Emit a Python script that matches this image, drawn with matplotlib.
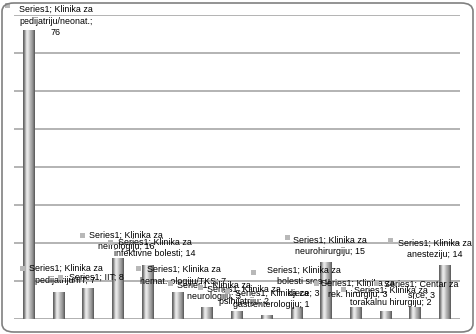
import numpy as np
import matplotlib.pyplot as plt
from matplotlib import transforms
from matplotlib.patches import FancyBboxPatch

# broj pacijenata po klinici
klinike = [
    "Klinika za\npedijatriju/neonat.;\n",
    "Klinika za\npedijatriju/IIT;",
    "IIT;",
    "Klinika za\nnefrologiju;",
    "Klinika za\ninfektivne bolesti;",
    "Klinika za\nhemat.-ologiju/TKS;",
    "Klinika za\nneurologiju;",
    "Klinika za\npsihijatriju;",
    "Klinika za\ngastrenterologiju;",
    "Klinika za\nbolesti srca u\ndjece;",
    "Klinika za\nneurohirurgiju;",
    "Klinika za\nrek. hirurgiju;",
    "Klinika za\ntorakalnu hirurgiju;",
    "Centar za\nsrce;",
    "Klinika za\nanesteziju;",
]
vrijednosti = [76, 7, 8, 16, 14, 7, 3, 2, 1, 3, 15, 3, 2, 3, 14]
serija = "Series1"

# pomaci natpisa (tekst i kvadratic) u pikselima od vrha stupca
pomak_teksta = [(27, 9), (7, 18), (8, 11), (8, 17), (7, 18), (6, 17), (7, 17),
                (7, 16), (5, 16), (7, 26), (4, 16), (2, 19), (5, 15), (6, 18),
                (-10, 17)]
pomak_kljuca = [(-22, 25), (-37, 24), (-28, 12), (-36, 23), (-38, 24),
                (-40, 24), (-37, 25), (-37, 24), (-40, 24), (-43, 36),
                (-39, 25), (-40, 25), (-43, 22), (-39, 25), (-55, 26)]

plt.rcParams['font.family'] = ['Liberation Sans', 'DejaVu Sans']

fig = plt.figure(figsize=(4.76, 3.34), dpi=100)
ax = fig.add_axes([14 / 476, 15 / 334, 446 / 476, 304 / 334])

# okvir grafikona sa zaobljenim uglovima
okvir = FancyBboxPatch((2 / 476, 2 / 334), 471 / 476, 329 / 334,
                       boxstyle="round,pad=0,rounding_size=0.025",
                       transform=fig.transFigure, fill=False,
                       edgecolor='#808080', linewidth=1.2)
fig.patches.append(okvir)

# cilindricni prelaz boje preko stupca
prelaz = np.array([0.40, 0.52, 0.70, 0.86, 0.91, 0.87, 0.79, 0.71,
                   0.65, 0.58, 0.49, 0.38])
slika = np.tile(prelaz, (2, 1))
sirina = 0.4
for i, v in enumerate(vrijednosti):
    ax.imshow(slika, cmap='gray', vmin=0, vmax=1, aspect='auto',
              extent=(i - sirina / 2, i + sirina / 2, 0, v),
              interpolation='bilinear', zorder=3)

ax.set_xlim(-0.5, len(vrijednosti) - 0.5)
ax.set_ylim(0, 80)
ax.set_yticks(np.arange(0, 81, 10))
ax.grid(axis='y', color='#b3b3b3', linewidth=1.4, zorder=0)
ax.tick_params(left=False, bottom=False, labelleft=False, labelbottom=False)
for s in ax.spines.values():
    s.set_visible(False)
ax.axhline(0, color='#a6a6a6', linewidth=1.4, zorder=1)

for i, (naziv, v) in enumerate(zip(klinike, vrijednosti)):
    razmak = "" if naziv.endswith("\n") else " "
    tekst = f"{serija}; {naziv}{razmak}{v}"
    ax.annotate(tekst, xy=(i, v), xytext=pomak_teksta[i],
                textcoords='offset pixels', ha='center', va='center',
                multialignment='center', fontsize=6.4, linespacing=1.35,
                zorder=5, annotation_clip=False)
    # kvadratic legende lijevo od natpisa
    pomak = transforms.ScaledTranslation(pomak_kljuca[i][0] / fig.dpi,
                                         pomak_kljuca[i][1] / fig.dpi,
                                         fig.dpi_scale_trans)
    ax.plot([i], [v], marker='s', markersize=3.6, color='#b8b8b8',
            markeredgewidth=0, linestyle='none', zorder=5,
            transform=ax.transData + pomak, clip_on=False)

fig.savefig("out.png", dpi=100)
